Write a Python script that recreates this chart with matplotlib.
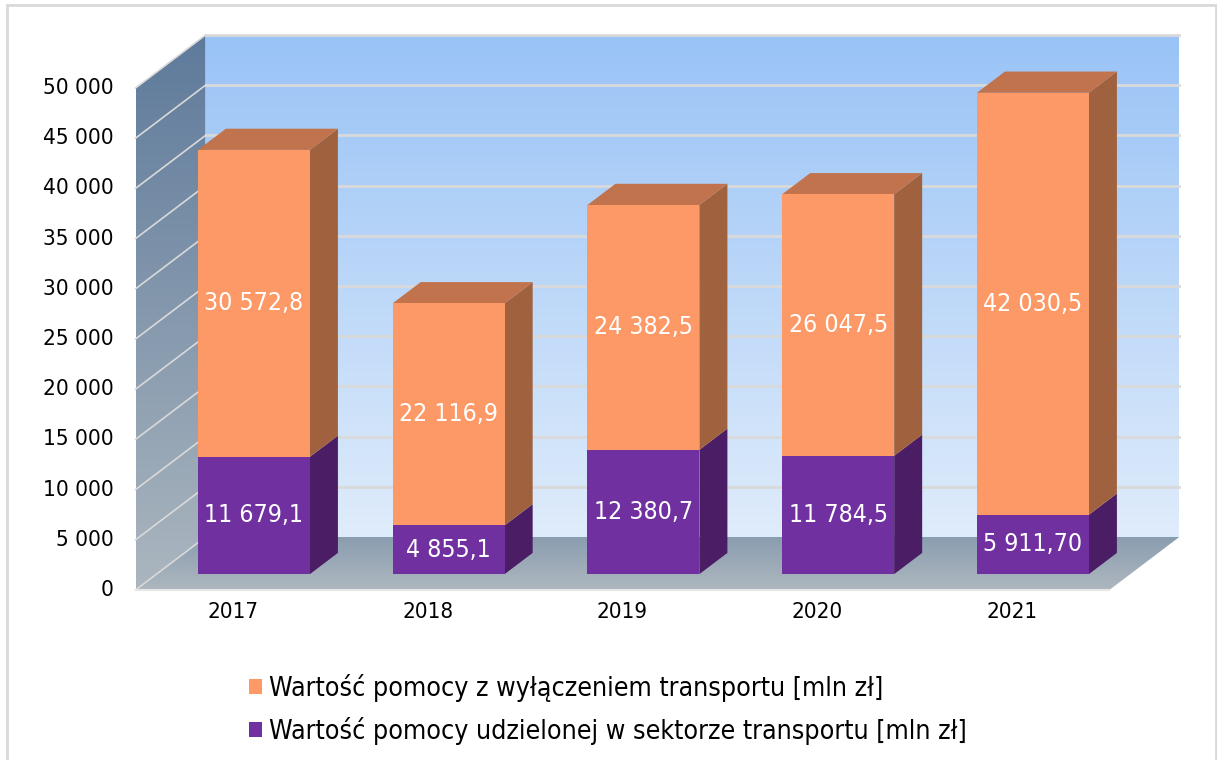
import numpy as np
import matplotlib.pyplot as plt
from matplotlib.patches import Polygon, Rectangle
from matplotlib.colors import LinearSegmentedColormap

plt.rcParams['font.family'] = ['DejaVu Sans']
plt.rcParams['font.stretch'] = 'condensed'

years = ['2017', '2018', '2019', '2020', '2021']
transport = [11679.1, 4855.1, 12380.7, 11784.5, 5911.70]
other = [30572.8, 22116.9, 24382.5, 26047.5, 42030.5]
transport_labels = ['11 679,1', '4 855,1', '12 380,7', '11 784,5', '5 911,70']
other_labels = ['30 572,8', '22 116,9', '24 382,5', '26 047,5', '42 030,5']
yticks = list(range(0, 50001, 5000))
series_names = ['Wartość pomocy z wyłączeniem transportu [mln zł]',
                'Wartość pomocy udzielonej w sektorze transportu [mln zł]']

# oblique "3d" projection: depth z in [0, 1] from floor front edge to back wall
DX = 0.3594
DV = 5279.0
X0, X1 = -0.5, 4.5
VMAX = 50000
BAR_W = 0.575
Z_FRONT, Z_BACK = 0.3, 0.7


def P(x, v, z):
    return (x + z * DX, v + z * DV)


fig = plt.figure(figsize=(12.17, 7.60), dpi=100)
ax = fig.add_axes([0, 0, 1, 1])


def gradient(poly_pts, c_top, c_bottom, z=0):
    pts = np.array(poly_pts)
    xmin, xmax = pts[:, 0].min(), pts[:, 0].max()
    vmin, vmax = pts[:, 1].min(), pts[:, 1].max()
    cmap = LinearSegmentedColormap.from_list('g', [c_bottom, c_top])
    grad = np.linspace(0, 1, 256).reshape(-1, 1)
    im = ax.imshow(grad, extent=[xmin, xmax, vmin, vmax], origin='lower',
                   cmap=cmap, aspect='auto', zorder=z, interpolation='bicubic')
    clip = Polygon(pts, closed=True, transform=ax.transData, fc='none', ec='none')
    ax.add_patch(clip)
    im.set_clip_path(clip)


# walls and floor
back = [P(X0, 0, 1), P(X1, 0, 1), P(X1, VMAX, 1), P(X0, VMAX, 1)]
side = [P(X0, 0, 0), P(X0, 0, 1), P(X0, VMAX, 1), P(X0, VMAX, 0)]
floor = [P(X0, 0, 0), P(X1, 0, 0), P(X1, 0, 1), P(X0, 0, 1)]
gradient(back, '#99C3F6', '#DFECFB', 0)
gradient(side, '#5E7A9B', '#ABB6BF', 0)
gradient(floor, '#899DB0', '#AEB7BF', 0)

for v in yticks:
    if v > 0:
        xs, vs = zip(P(X0, v, 1), P(X1, v, 1))
        ax.plot(xs, vs, color='#D9D9D9', lw=2, zorder=1)
    xs, vs = zip(P(X0, v, 0), P(X0, v, 1))
    ax.plot(xs, vs, color='#D9D9D9', lw=1.2, zorder=1)
xs, vs = zip(P(X0, 0, 0), P(X1, 0, 0))
ax.plot(xs, vs, color='#E6E6E6', lw=1.5, zorder=1)

# bars
x = np.arange(len(years))
fx, fv = DX * Z_FRONT, DV * Z_FRONT
totals = [t + o for t, o in zip(transport, other)]
ax.bar(x + fx, transport, width=BAR_W, bottom=fv, color='#7030A0', zorder=3)
ax.bar(x + fx, other, width=BAR_W, bottom=np.array(transport) + fv,
       color='#FD9966', zorder=3)


def box_faces(i, v0, v1, side_c, top_c):
    xr = i + BAR_W / 2
    xl = i - BAR_W / 2
    s = [P(xr, v0, Z_FRONT), P(xr, v0, Z_BACK), P(xr, v1, Z_BACK), P(xr, v1, Z_FRONT)]
    ax.add_patch(Polygon(s, closed=True, fc=side_c, ec='none', zorder=2))
    if top_c:
        t = [P(xl, v1, Z_FRONT), P(xr, v1, Z_FRONT), P(xr, v1, Z_BACK), P(xl, v1, Z_BACK)]
        ax.add_patch(Polygon(t, closed=True, fc=top_c, ec='none', zorder=2))


for i in range(len(years)):
    box_faces(i, 0, transport[i], '#4A1D64', None)
    box_faces(i, transport[i], totals[i], '#A0623E', '#C1734D')
    ax.text(i + fx, transport[i] / 2 + fv, transport_labels[i], color='white',
            ha='center', va='center', fontsize=17.8, zorder=4)
    ax.text(i + fx, transport[i] + other[i] / 2 + fv, other_labels[i], color='white',
            ha='center', va='center', fontsize=17.8, zorder=4)
    ax.annotate(years[i], xy=P(i, 0, 0), xytext=(0, -22), textcoords='offset pixels',
                ha='center', va='center', fontsize=16)

for v in yticks:
    ax.annotate(f'{v:,}'.replace(',', ' '), xy=P(X0, v, 0), xytext=(-22, 0),
                textcoords='offset pixels', ha='right', va='center', fontsize=16.2)

ax.set_xlim(-1.196, 5.053)
ax.set_ylim(-16932, 58765)
ax.axis('off')

handles = [Rectangle((0, 0), 1, 1, fc='#FD9966'), Rectangle((0, 0), 1, 1, fc='#7030A0')]
fig.legend(handles, series_names, loc='upper left', bbox_to_anchor=(249 / 1217, 1 - 674 / 760),
           frameon=False, fontsize=19.2, handlelength=0.5, handleheight=0.5,
           handletextpad=0.25, labelspacing=0.55, borderpad=0, borderaxespad=0)

fig.add_artist(Rectangle((7 / 1217, -0.01), 1209 / 1217, 1 - 5 / 760 + 0.01, fill=False,
                         ec='#D9D9D9', lw=2, transform=fig.transFigure))

fig.savefig('out.png', dpi=100)
